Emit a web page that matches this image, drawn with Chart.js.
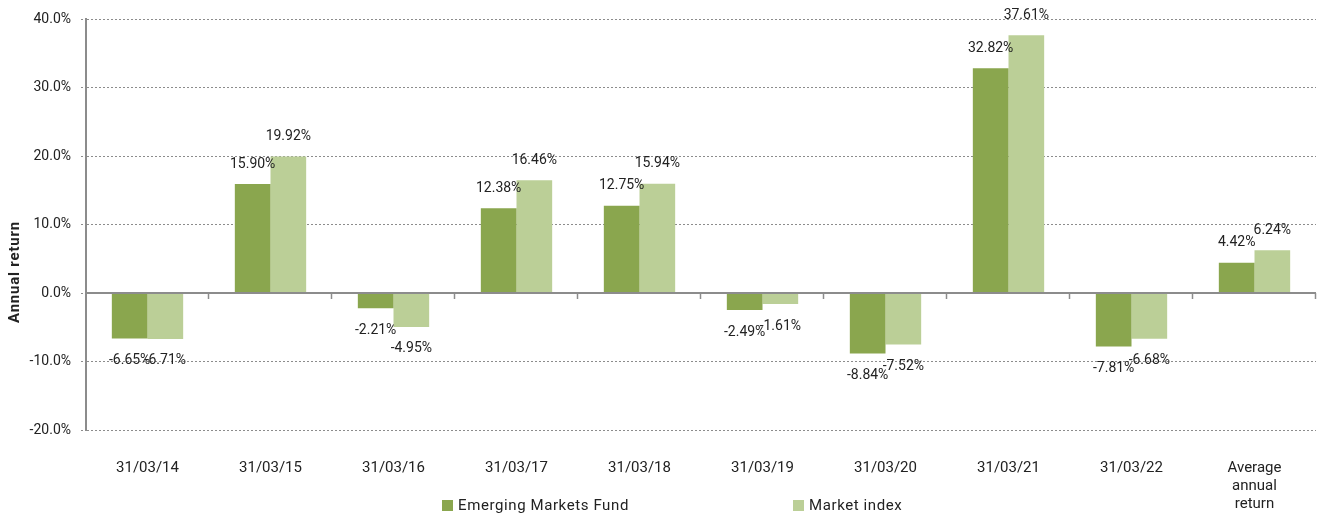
<!DOCTYPE html>
<html>
<head>
<meta charset="utf-8">
<script src="https://cdn.jsdelivr.net/npm/chart.js@4.4.1/dist/chart.umd.min.js"></script>
<style>
  html,body{margin:0;padding:0;background:#fff;}
  #wrap{position:relative;width:1317px;height:518px;}
  .lg{position:absolute;top:496px;font:15px Roboto,sans-serif;color:#222;letter-spacing:0.6px;display:flex;align-items:center;white-space:nowrap;}
  .lg i{display:inline-block;width:11px;height:11px;margin-right:5px;}
</style>
</head>
<body>
<div id="wrap">
  <canvas id="c"></canvas>
  <div class="lg" style="left:442px"><i style="background:#8aa64e"></i>Emerging Markets Fund</div>
  <div class="lg" style="left:793px"><i style="background:#bbcf97"></i>Market index</div>
</div>
<script>
const categories = ['31/03/14','31/03/15','31/03/16','31/03/17','31/03/18','31/03/19','31/03/20','31/03/21','31/03/22',['Average','annual','return']];
const fundReturns = [-6.65, 15.90, -2.21, 12.38, 12.75, -2.49, -8.84, 32.82, -7.81, 4.42];
const indexReturns = [-6.71, 19.92, -4.95, 16.46, 15.94, -1.61, -7.52, 37.61, -6.68, 6.24];
const seriesNames = ['Emerging Markets Fund', 'Market index'];
const yTicks = [-20, -10, 0, 10, 20, 30, 40];

const FONT = 'Roboto, sans-serif';
const AXIS = '#8c8c8c';

const valueLabels = {
  id: 'valueLabels',
  afterDatasetsDraw(chart){
    const ctx = chart.ctx;
    const {left, right} = chart.chartArea;
    const y0 = chart.scales.y.getPixelForValue(0);
    // zero line with category ticks
    ctx.save();
    ctx.strokeStyle = AXIS; ctx.lineWidth = 2;
    ctx.beginPath(); ctx.moveTo(left, y0); ctx.lineTo(right, y0); ctx.stroke();
    const n = categories.length, w = (right-left)/n;
    ctx.lineWidth = 1.5;
    for (let i=1;i<=n;i++){ const x = Math.round(left+i*w)-0.5; ctx.beginPath(); ctx.moveTo(x,y0); ctx.lineTo(x,y0+6); ctx.stroke(); }
    // values
    ctx.font = '14px ' + FONT; ctx.fillStyle = '#222';
    ctx.textAlign = 'center'; ctx.textBaseline = 'middle';
    chart.data.datasets.forEach((ds, di)=>{
      chart.getDatasetMeta(di).data.forEach((bar, i)=>{
        const v = ds.data[i];
        const y = v >= 0 ? bar.y - 20 : bar.y + 22;
        ctx.fillText(v.toFixed(2) + '%', bar.x, y);
      });
    });
    // y title
    ctx.translate(15, 272); ctx.rotate(-Math.PI/2);
    ctx.font = 'bold 15px ' + FONT; ctx.letterSpacing = '0.8px';
    ctx.fillText('Annual return', 0, 0);
    ctx.restore();
  }
};

new Chart(document.getElementById('c'), {
  type: 'bar',
  data: {
    labels: categories,
    datasets: [
      { label: seriesNames[0], data: fundReturns, backgroundColor: '#8aa64e' },
      { label: seriesNames[1], data: indexReturns, backgroundColor: '#bbcf97' }
    ]
  },
  options: {
    responsive: true, maintainAspectRatio: false, animation: false,
    categoryPercentage: 0.58, barPercentage: 1.0,
    layout: { padding: { top: 19, right: 1, left: 0, bottom: 0 } },
    plugins: { legend: { display: false }, tooltip: { enabled: false } },
    scales: {
      x: {
        grid: { display: false }, border: { display: false },
        ticks: { color: '#222', font: { family: FONT, size: 15 }, padding: 21, maxRotation: 0, autoSkip: false },
        afterFit(s){ s.height = 88; }
      },
      y: {
        min: -20, max: 40,
        afterBuildTicks(s){ s.ticks = yTicks.map(v=>({value:v})); },
        grid: { color: '#8c8c8c', lineWidth: 1, tickLength: 5, tickBorderDash: [2,2], drawTicks: true },
        border: { display: true, color: AXIS, width: 2, dash: [2,2] },
        ticks: { color: '#222', font: { family: FONT, size: 14 }, padding: 10, callback: v => v.toFixed(1) + '%' },
        afterFit(s){ s.width = 86; }
      }
    }
  },
  plugins: [valueLabels]
});
</script>
</body>
</html>
